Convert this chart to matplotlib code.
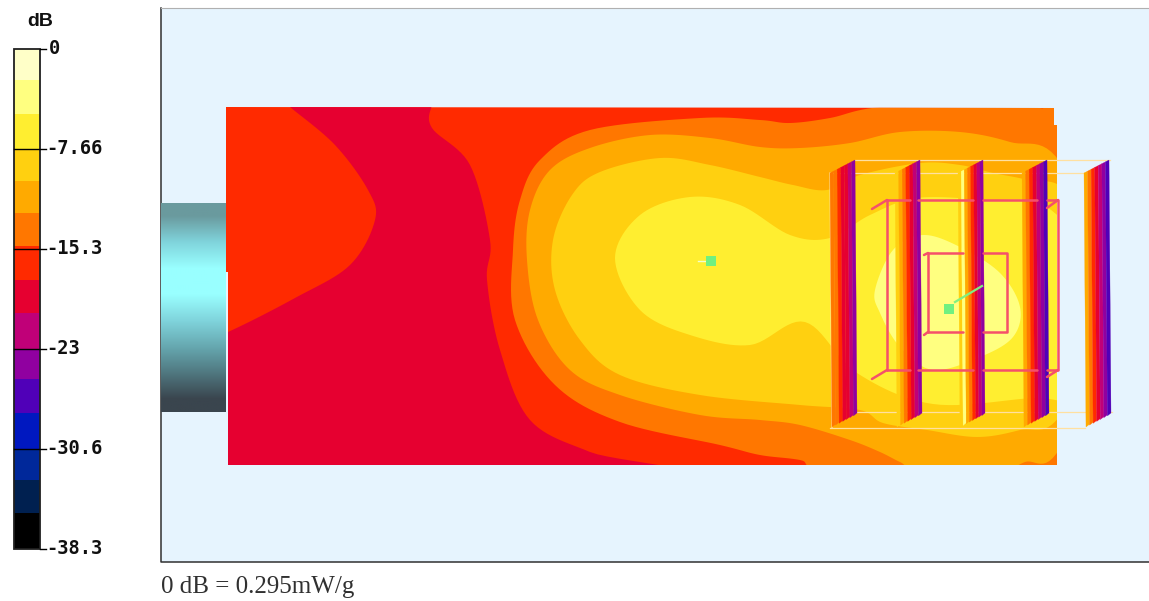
import numpy as np
import matplotlib
matplotlib.use("Agg")
import matplotlib.pyplot as plt
from matplotlib.patches import Polygon, Rectangle

band_colors = ["#FFFFC8", "#FFFF80", "#FFEE30", "#FFD010", "#FFAA00", "#FF7700", "#FF2A00",
               "#E60030", "#C00078", "#9000A0", "#5000B8", "#0018C0", "#00289A", "#002050", "#000000"]
band_edges = [49, 80, 114, 149, 181, 213, 246, 280, 313, 349, 379, 413, 449, 480, 513, 549]
tick_labels = ["0", "-7.66", "-15.3", "-23", "-30.6", "-38.3"]
tick_pos = [49, 149, 249, 349, 449, 549]

phantom = [(226, 107), (1054, 108), (1054, 125), (1057, 125), (1057, 465), (228, 465), (228, 272), (226, 272)]
crimson = [(270, 90), (290, 107), (335, 145), (368, 190), (375, 220), (350, 265), (295, 298), (228, 332), (180, 350), (170, 480),
           (660, 475), (590, 452), (530, 420), (500, 350), (487, 280), (490, 240), (470, 165), (432, 128), (432, 105), (440, 90)]
orange = [(520, 200), (540, 160), (590, 130), (700, 118), (760, 120), (790, 123), (830, 118), (880, 107), (1000, 100), (1040, 108),
          (1062, 120), (1120, 300), (1090, 470), (840, 470), (800, 460), (760, 455), (720, 445), (620, 422), (555, 385), (515, 320), (513, 250)]
amber = [(530, 210), (550, 170), (590, 148), (650, 135), (710, 138), (760, 147), (800, 148), (850, 143), (900, 132), (960, 132),
         (1010, 142), (1060, 162), (1120, 300), (1060, 448), (1025, 462), (1000, 470), (920, 470), (900, 462), (880, 452), (850, 440),
         (800, 425), (760, 420), (700, 415), (620, 395), (570, 370), (538, 320), (527, 260)]
gold = [(553, 240), (572, 195), (600, 172), (660, 158), (710, 165), (760, 177), (793, 185), (827, 190), (860, 175), (920, 163),
        (960, 165), (993, 173), (1027, 180), (1070, 195), (1120, 300), (1060, 416), (1020, 430), (977, 437), (927, 430), (883, 423),
        (860, 410), (800, 405), (700, 395), (620, 375), (580, 340), (555, 290)]
yellow = [(615, 258), (640, 215), (690, 197), (740, 205), (790, 235), (830, 238), (870, 215), (917, 198), (985, 200), (1047, 207),
          (1100, 280), (1100, 395), (1033, 398), (933, 404), (857, 373), (805, 322), (750, 345), (690, 335), (640, 310)]
pale = [(875, 290), (893, 250), (923, 235), (960, 247), (1000, 273), (1020, 307), (1013, 337), (980, 357), (933, 370),
        (900, 347), (880, 313)]
contours = [("#E60030", crimson), ("#FF7700", orange), ("#FFAA00", amber),
            ("#FFD010", gold), ("#FFEE30", yellow), ("#FFFF80", pale)]

fin_x = [830, 895, 958, 1022, 1084]
fin_stripes = [
    ["#FF7700", "#FF7700", "#FF2A00", "#E60030", "#E60030", "#C00078", "#9000A0"],
    ["#FFD010", "#FFAA00", "#FF7700", "#FF2A00", "#E60030", "#C00078", "#9000A0"],
    ["#FFD010", "#FFFF80", "#FFAA00", "#FF7700", "#FF2A00", "#E60030", "#C00078", "#9000A0"],
    ["#FFAA00", "#FF7700", "#FF2A00", "#E60030", "#C00078", "#9000A0", "#5000B8"],
    ["#FFAA00", "#FF7700", "#FF2A00", "#E60030", "#C00078", "#9000A0", "#5000B8"],
]
coil_segments = [
    [(887, 200), (910, 200)], [(918, 200), (973, 200)], [(983, 200), (1037, 200)], [(1047, 200), (1058, 200), (1058, 370), (1047, 370)],
    [(983, 370), (1037, 370)], [(918, 370), (973, 370)], [(887, 370), (910, 370)], [(887, 200), (887, 370)],
    [(887, 200), (872, 209)], [(887, 370), (872, 379)], [(1058, 200), (1047, 208)], [(1058, 370), (1047, 377)],
    [(928, 253), (963, 253)], [(983, 253), (1007, 253), (1007, 332), (983, 332)], [(928, 332), (963, 332)], [(928, 253), (928, 332)],
    [(928, 253), (924, 255)], [(928, 332), (924, 335)],
]
wire_segments = [
    [(855, 160), (1110, 160)], [(830, 173), (1085, 173)], [(855, 412), (1112, 412)], [(830, 428), (1085, 428)],
    [(830, 173), (832, 428)], [(960, 236), (983, 223)], [(960, 365), (983, 350)],
]
markers = [(711, 261), (949, 309)]
cylinder_colors = ["#6A9A9E", "#80D4DC", "#99FFFF", "#99FFFF", "#80D4DC", "#66A8B0", "#507880", "#3A454E"]


def smooth(pts, n=12):
    """Closed Catmull-Rom curve through the read contour points."""
    p = np.array(pts, float)
    out = []
    for i in range(len(p)):
        p0, p1, p2, p3 = p[i - 1], p[i], p[(i + 1) % len(p)], p[(i + 2) % len(p)]
        for t in np.linspace(0, 1, n, endpoint=False):
            out.append(0.5 * (2 * p1 + (p2 - p0) * t + (2 * p0 - 5 * p1 + 4 * p2 - p3) * t ** 2
                              + (3 * p1 - p0 - 3 * p2 + p3) * t ** 3))
    return np.array(out)


fig = plt.figure(figsize=(11.49, 6.01), dpi=100, facecolor="white")
ax = fig.add_axes([0, 0, 1, 1])
ax.axis("off")

# plot frame
ax.add_patch(Rectangle((161, 8), 988, 554, fc="#E6F4FE", ec="none", zorder=0))
ax.plot([161, 161, 1149], [8, 562, 562], color="#303030", lw=1.1, zorder=1)
ax.plot([161, 1149], [8, 8], color="#B0B0B0", lw=0.8, zorder=1)

# cylinder
cyl_rgb = np.array([matplotlib.colors.to_rgb(c) for c in cylinder_colors])[:, None, :]
ax.imshow(cyl_rgb, extent=(161, 226, 412, 203), aspect="auto", interpolation="bilinear", zorder=2)
ax.set_xlim(0, 1149)
ax.set_ylim(601, 0)

# phantom
base = Polygon(phantom, closed=True, fc="#FF2A00", ec="none", zorder=3)
ax.add_patch(base)
for i, (c, pts) in enumerate(contours):
    patch = Polygon(smooth(pts), closed=True, fc=c, ec="none", zorder=4 + i * 0.1)
    ax.add_patch(patch)
    patch.set_clip_path(base)

# fins
fin_w, fin_dy, fin_h = 25, 13, 254
for x0, stripes in zip(fin_x, fin_stripes):
    n = len(stripes)
    for j, c in enumerate(stripes):
        a, b = j / n * fin_w, (j + 1) / n * fin_w
        ax.add_patch(Polygon([(x0 + a, 173 - a / fin_w * fin_dy), (x0 + b, 173 - b / fin_w * fin_dy),
                              (x0 + b + 2, 173 + fin_h - b / fin_w * fin_dy - 1),
                              (x0 + a + 2, 173 + fin_h - a / fin_w * fin_dy)],
                             closed=True, fc=c, ec=c, lw=0.2, zorder=6))

# wireframe, coil, markers
for seg in wire_segments:
    xs, ys = zip(*seg)
    ax.plot(xs, ys, color="#FFE0A0", lw=0.9, zorder=5.9)
for seg in coil_segments:
    xs, ys = zip(*seg)
    ax.plot(xs, ys, color="#F5506A", lw=1.8, zorder=8, solid_capstyle="round")
ax.plot([955, 982], [302, 286], color="#80F080", lw=1.6, zorder=9)
ax.plot([698, 708], [261, 261], color="#F0FFD0", lw=1, zorder=9)
for mx, my in markers:
    ax.add_patch(Rectangle((mx - 5, my - 5), 10, 10, fc="#70F080", ec="none", zorder=10))

# colour bar
for c, top, bot in zip(band_colors, band_edges[:-1], band_edges[1:]):
    ax.add_patch(Rectangle((14, top), 26, bot - top, fc=c, ec="none", zorder=3))
ax.add_patch(Rectangle((14, 49), 26, 500, fc="none", ec="#202020", lw=1.3, zorder=4))
for y, lab in zip(tick_pos, tick_labels):
    if lab not in ("0", "-38.3"):
        ax.plot([14, 46], [y, y], color="black", lw=1, zorder=5)
    else:
        ax.plot([40, 46], [y, y], color="black", lw=1, zorder=5)
    ax.text(46 if lab != "0" else 49, y, lab, family="DejaVu Sans Mono", weight="bold", fontsize=13.5, ha="left",
            va="center", color="#101010")
ax.text(27, 21, "dB", family="Liberation Sans", weight="bold", fontsize=14, ha="left", va="center", color="#101010")
ax.text(161, 587, "0 dB = 0.295mW/g", family="Liberation Serif", fontsize=18, ha="left", va="center", color="#303030")

fig.savefig("out.png", dpi=100, facecolor="white")
